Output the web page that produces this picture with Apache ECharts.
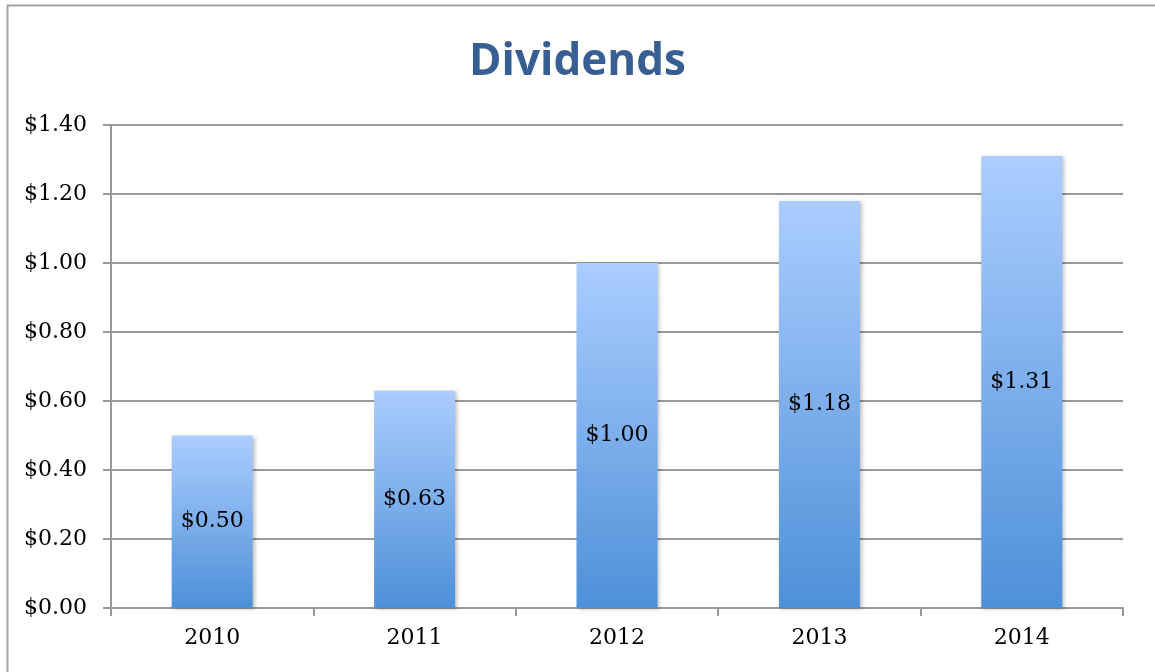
<!DOCTYPE html>
<html>
<head>
<meta charset="utf-8">
<script src="https://cdn.jsdelivr.net/npm/echarts@6/dist/echarts.min.js"></script>
<style>
  html, body { margin: 0; padding: 0; background: #fff; }
  #chart { width: 1155px; height: 672px; }
</style>
</head>
<body>
<div id="chart"></div>
<script>
// Dividends per year
var years = ['2010', '2011', '2012', '2013', '2014'];
var dividends = [0.50, 0.63, 1.00, 1.18, 1.31];
var yTicks = { min: 0, max: 1.4, step: 0.2 };

function money(v) {
  return '$' + Number(v).toFixed(2);
}

var chart = echarts.init(document.getElementById('chart'));

var gridColor = '#999999';
var serif = '"DejaVu Serif", "Liberation Serif", serif';

chart.setOption({
  animation: false,
  graphic: [{
    type: 'rect',
    left: 5, top: 3,
    shape: { width: 1200, height: 720 },
    style: { fill: 'none', stroke: '#a6a6a6', lineWidth: 2 },
    z: -1
  }],
  title: {
    text: 'Dividends',
    left: 'center',
    top: 35,
    textStyle: {
      fontFamily: '"Open Sans", Lato, sans-serif',
      fontWeight: 'bold',
      fontSize: 44,
      color: '#385f93'
    }
  },
  grid: { left: 111, right: 32, top: 125, bottom: 64 },
  xAxis: {
    type: 'category',
    data: years,
    axisLine: { lineStyle: { color: gridColor, width: 2 } },
    axisTick: { show: true, length: 8, lineStyle: { color: gridColor, width: 2 } },
    axisLabel: { fontFamily: serif, fontSize: 22, color: '#000', margin: 19 }
  },
  yAxis: {
    type: 'value',
    min: yTicks.min,
    max: yTicks.max,
    interval: yTicks.step,
    axisLine: { show: true, lineStyle: { color: gridColor, width: 2 } },
    axisTick: { show: true, length: 8, lineStyle: { color: gridColor, width: 2 } },
    splitLine: { lineStyle: { color: gridColor, width: 2 } },
    axisLabel: { fontFamily: serif, fontSize: 22, color: '#000', margin: 24, formatter: money }
  },
  series: [{
    type: 'bar',
    data: dividends,
    barWidth: '40%',
    itemStyle: {
      color: new echarts.graphic.LinearGradient(0, 0, 0, 1, [
        { offset: 0, color: '#abcdff' },
        { offset: 1, color: '#4e90d8' }
      ]),
      shadowColor: 'rgba(0,0,0,0.25)',
      shadowBlur: 4,
      shadowOffsetX: 2,
      shadowOffsetY: 1
    },
    label: {
      show: true,
      position: 'inside',
      fontFamily: serif,
      fontSize: 22,
      color: '#000',
      formatter: function (p) { return money(p.value); }
    }
  }]
});
</script>
</body>
</html>
